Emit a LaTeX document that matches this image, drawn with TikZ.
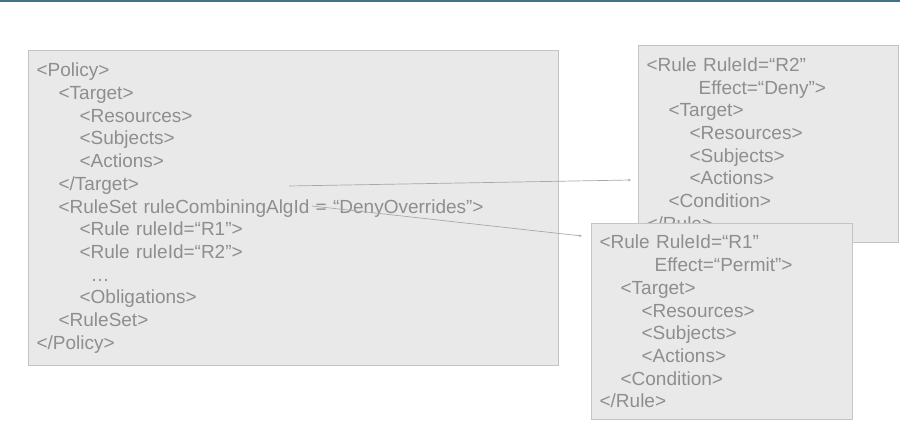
\documentclass[tikz,border=0pt]{standalone}
\usepackage{fontspec}
\setmainfont{Liberation Sans}
\usetikzlibrary{arrows.meta}

\definecolor{boxfill}{HTML}{E9E9E9}
\definecolor{boxline}{HTML}{C4C4C4}
\definecolor{codetext}{HTML}{8E8E8E}
\definecolor{linkgray}{HTML}{A8A8A8}
\definecolor{topbar}{HTML}{3E7388}
\newcommand{\ind}[1]{\hspace*{#1pt}}

\begin{document}
\begin{tikzpicture}[x=1pt,y=1pt,
    xmlbox/.style={draw=boxline, line width=1.2pt, fill=boxfill, text=codetext,
      font=\fontsize{19}{22.7}\selectfont, align=left, anchor=north west,
      inner xsep=8pt, inner ysep=0pt},
    link/.style={draw=linkgray, line width=0.7pt, -{Stealth[length=3pt,width=2.6pt]}}]

        \useasboundingbox (0,0) rectangle (900,-429);

        % Bar along the top edge
        \fill[topbar] (0,0) rectangle (900,-2.2);

        % The policy document (left)
        \node[xmlbox, text width=514pt, minimum height=315pt] (policy) at (28,-50) {%
            <Policy>\\
            \ind{22}<Target>\\
            \ind{43}<Resources>\\
            \ind{43}<Subjects>\\
            \ind{43}<Actions>\\
            \ind{22}</Target>\\
            \ind{22}<RuleSet ruleCombiningAlgId = “DenyOverrides”>\\
            \ind{43}<Rule ruleId=“R1”>\\
            \ind{43}<Rule ruleId=“R2”>\\
            \ind{54}…\\
            \ind{43}<Obligations>\\
            \ind{22}<RuleSet>\\
            </Policy>};

        % Rule R2 (back, top right)
        \node[xmlbox, text width=244pt, minimum height=197pt] (ruleB) at (638,-45) {%
            <Rule RuleId=“R2”\\
            \ind{52}Effect=“Deny”>\\
            \ind{22}<Target>\\
            \ind{43}<Resources>\\
            \ind{43}<Subjects>\\
            \ind{43}<Actions>\\
            \ind{22}<Condition>\\
            </Rule>};

        % Rule R1 (front, lower right)
        \node[xmlbox, text width=245pt, minimum height=196pt] (ruleA) at (591,-223) {%
            <Rule RuleId=“R1”\\
            \ind{55}Effect=“Permit”>\\
            \ind{21}<Target>\\
            \ind{42}<Resources>\\
            \ind{42}<Subjects>\\
            \ind{42}<Actions>\\
            \ind{21}<Condition>\\
            </Rule>};

        % Links from the policy to the rules
        \coordinate (fromTarget) at (289,-186);
        \coordinate (fromRuleSet) at (312,-206);
        \draw[link] (fromTarget) -- ([xshift=-7pt,yshift=-135pt]ruleB.north west);
        \draw[link] (fromRuleSet) -- ([xshift=-9pt,yshift=-13pt]ruleA.north west);

    \end{tikzpicture}
\end{document}
